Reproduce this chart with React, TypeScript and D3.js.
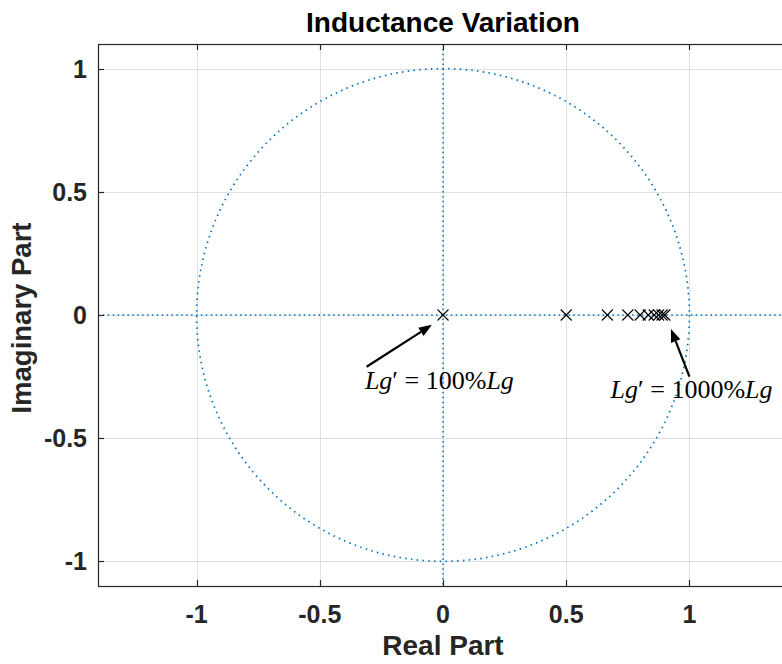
import React, { useEffect, useRef } from "react";
import * as d3 from "d3";

// closed-loop pole locations (real, imag) as Lg' goes from 100% to 1000% of Lg
const poleReal = [0, 0.5, 0.667, 0.75, 0.8, 0.833, 0.857, 0.875, 0.889, 0.9];
const poleImag = [0, 0, 0, 0, 0, 0, 0, 0, 0, 0];

const xTicks = [-1, -0.5, 0, 0.5, 1];
const yTicks = [-1, -0.5, 0, 0.5, 1];
const xTickLabels = ["-1", "-0.5", "0", "0.5", "1"];
const yTickLabels = ["-1", "-0.5", "0", "0.5", "1"];

const noteLabels = ["100%", "1000%"];

const W = 782;
const H = 664;

function App() {
  const ref = useRef<SVGSVGElement | null>(null);

  useEffect(() => {
    draw();
  }, []);

  const draw = () => {
    const svg = d3.select(ref.current);
    svg.selectAll("*").remove();

    const left = 98, right = 788, top = 44, bottom = 586;
    const x = d3.scaleLinear().domain([-1.4, 1.4]).range([left, right]);
    const y = d3.scaleLinear().domain([-1.1, 1.1]).range([bottom, top]);
    const axisColor = "#262626";
    const blue = "#0072BD";

    svg.append("rect")
      .attr("x", left).attr("y", top)
      .attr("width", right - left).attr("height", bottom - top)
      .attr("fill", "white");

    // grid
    const grid = svg.append("g").attr("stroke", "#dfdfdf").attr("stroke-width", 1);
    grid.selectAll(".gx").data(xTicks).enter().append("line")
      .attr("x1", (d) => Math.round(x(d)) + 0.5).attr("x2", (d) => Math.round(x(d)) + 0.5)
      .attr("y1", top).attr("y2", bottom);
    grid.selectAll(".gy").data(yTicks).enter().append("line")
      .attr("y1", (d) => Math.round(y(d)) + 0.5).attr("y2", (d) => Math.round(y(d)) + 0.5)
      .attr("x1", left).attr("x2", right);

    const plot = svg.append("g");

    // unit circle + axes through origin, dotted
    plot.append("ellipse")
      .attr("cx", x(0)).attr("cy", y(0))
      .attr("rx", x(1) - x(0)).attr("ry", y(0) - y(1))
      .attr("fill", "none").attr("stroke", blue)
      .attr("stroke-width", 1.7).attr("stroke-dasharray", "1.5 4.3");
    plot.append("line")
      .attr("x1", left).attr("x2", right).attr("y1", y(0)).attr("y2", y(0))
      .attr("stroke", blue).attr("stroke-width", 1.5).attr("stroke-dasharray", "1.5 3.4");
    plot.append("line")
      .attr("x1", x(0)).attr("x2", x(0)).attr("y1", top).attr("y2", bottom)
      .attr("stroke", blue).attr("stroke-width", 1.5).attr("stroke-dasharray", "1.5 3.4");

    // pole markers
    const s = 5.5;
    const marks = plot.selectAll(".pole").data(poleReal).enter().append("g")
      .attr("transform", (d, i) => `translate(${x(d)},${y(poleImag[i])})`)
      .attr("stroke", "black").attr("stroke-width", 1.1);
    marks.append("line").attr("x1", -s).attr("y1", -s).attr("x2", s).attr("y2", s);
    marks.append("line").attr("x1", -s).attr("y1", s).attr("x2", s).attr("y2", -s);

    // axes box + inward ticks
    svg.append("rect")
      .attr("x", left + 0.5).attr("y", top + 0.5)
      .attr("width", right - left).attr("height", bottom - top)
      .attr("fill", "none").attr("stroke", axisColor).attr("stroke-width", 1.2);
    const tk = 6;
    const ticks = svg.append("g").attr("stroke", axisColor).attr("stroke-width", 1.2);
    xTicks.forEach((d) => {
      const px = Math.round(x(d)) + 0.5;
      ticks.append("line").attr("x1", px).attr("x2", px).attr("y1", bottom).attr("y2", bottom - tk);
      ticks.append("line").attr("x1", px).attr("x2", px).attr("y1", top).attr("y2", top + tk);
    });
    yTicks.forEach((d) => {
      const py = Math.round(y(d)) + 0.5;
      ticks.append("line").attr("y1", py).attr("y2", py).attr("x1", left).attr("x2", left + tk);
      ticks.append("line").attr("y1", py).attr("y2", py).attr("x1", right).attr("x2", right - tk);
    });

    const font = "'Liberation Sans', Arial, Helvetica, sans-serif";

    svg.selectAll(".xl").data(xTicks).enter().append("text")
      .text((d, i) => xTickLabels[i])
      .attr("x", (d) => x(d)).attr("y", 623)
      .attr("text-anchor", "middle")
      .attr("font-family", font).attr("font-weight", "bold").attr("font-size", 25)
      .attr("fill", axisColor);
    svg.selectAll(".yl").data(yTicks).enter().append("text")
      .text((d, i) => yTickLabels[i])
      .attr("x", 87).attr("y", (d) => y(d) + 9)
      .attr("text-anchor", "end")
      .attr("font-family", font).attr("font-weight", "bold").attr("font-size", 25)
      .attr("fill", axisColor);

    svg.append("text").text("Inductance Variation")
      .attr("x", x(0)).attr("y", 32)
      .attr("text-anchor", "middle")
      .attr("font-family", font).attr("font-weight", "bold").attr("font-size", 28)
      .attr("fill", "black");
    svg.append("text").text("Real Part")
      .attr("x", x(0)).attr("y", 655)
      .attr("text-anchor", "middle")
      .attr("font-family", font).attr("font-weight", "bold").attr("font-size", 28)
      .attr("fill", axisColor);
    svg.append("text").text("Imaginary Part")
      .attr("transform", `translate(31,${y(0) + 3}) rotate(-90)`)
      .attr("text-anchor", "middle")
      .attr("font-family", font).attr("font-weight", "bold").attr("font-size", 27.5)
      .attr("fill", axisColor);

    // annotations: arrow tail, arrow head, text anchor (data units)
    const notes = [
      { tail: [-0.31, -0.21], head: [-0.045, -0.04], at: [-0.317, -0.3] },
      { tail: [1.0, -0.25], head: [0.925, -0.057], at: [0.68, -0.335] },
    ];
    notes.forEach((n, i) => {
      const x1 = x(n.tail[0]), y1 = y(n.tail[1]);
      const x2 = x(n.head[0]), y2 = y(n.head[1]);
      const ang = Math.atan2(y2 - y1, x2 - x1);
      const L = 13, Wd = 5;
      const bx = x2 - L * Math.cos(ang), by = y2 - L * Math.sin(ang);
      svg.append("line")
        .attr("x1", x1).attr("y1", y1).attr("x2", bx).attr("y2", by)
        .attr("stroke", "black").attr("stroke-width", 2.2);
      const pts = [
        [x2, y2],
        [bx + Wd * Math.sin(ang), by - Wd * Math.cos(ang)],
        [bx - Wd * Math.sin(ang), by + Wd * Math.cos(ang)],
      ];
      svg.append("polygon").attr("points", pts.map((p) => p.join(",")).join(" ")).attr("fill", "black");

      const t = svg.append("text")
        .attr("x", x(n.at[0])).attr("y", y(n.at[1]))
        .attr("font-family", "'Liberation Serif', 'Times New Roman', serif")
        .attr("font-size", 26).attr("fill", "black");
      t.append("tspan").attr("font-style", "italic").text("Lg");
      t.append("tspan").text("\u2032 = ");
      t.append("tspan").text(noteLabels[i]);
      t.append("tspan").attr("font-style", "italic").text("Lg");
    });
  };

  return (
    <svg
      ref={ref}
      width={W}
      height={H}
      style={{ position: "absolute", left: 0, top: 0, background: "white" }}
    />
  );
}

export default App;
